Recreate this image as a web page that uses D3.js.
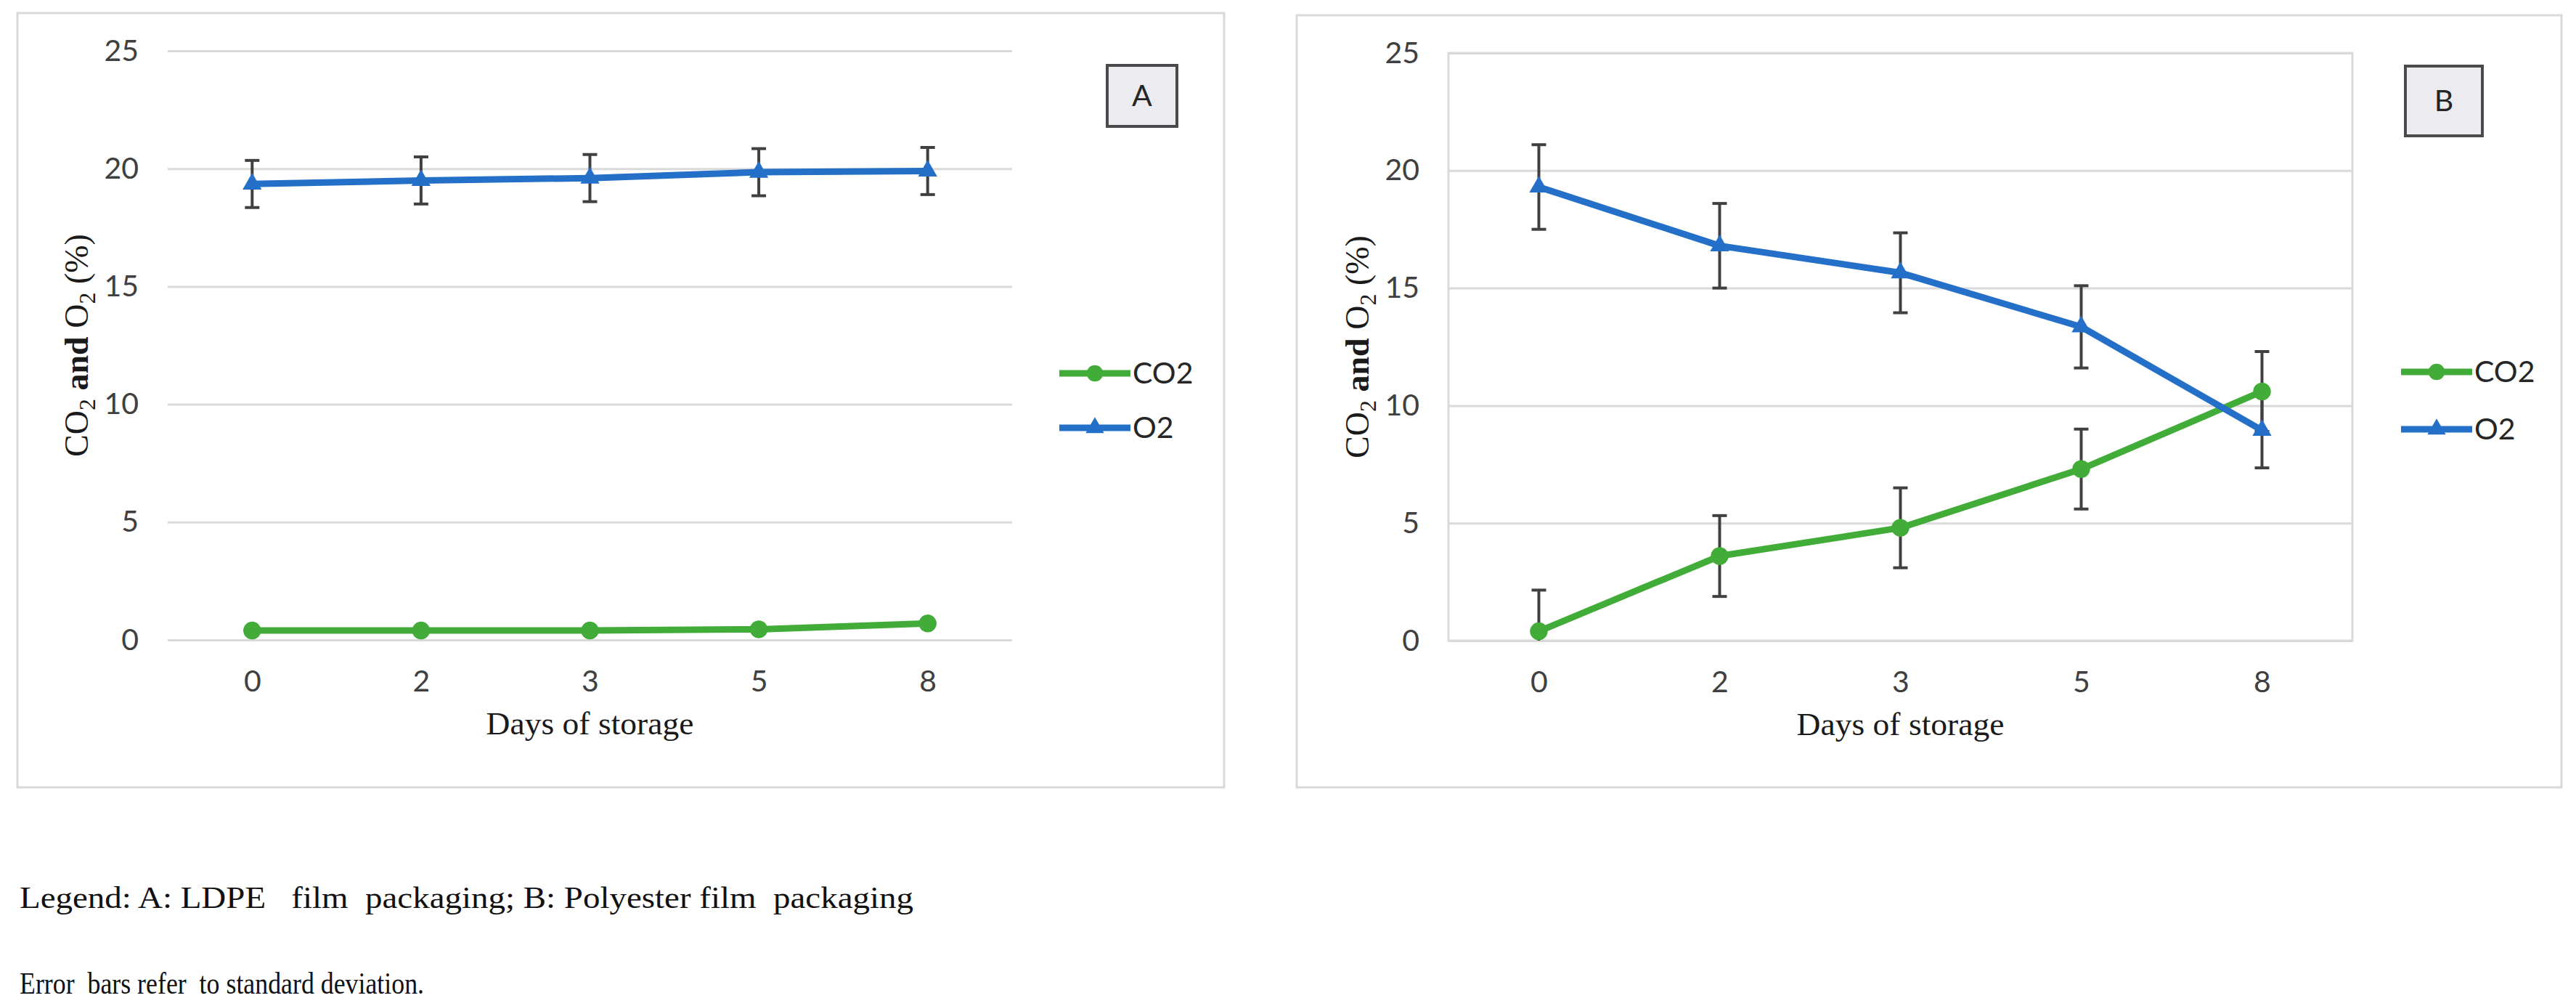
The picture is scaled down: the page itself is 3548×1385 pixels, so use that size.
<!DOCTYPE html>
<html>
<head>
<meta charset="utf-8">
<script src="https://cdn.jsdelivr.net/npm/d3@7"></script>
<style>
  body { margin: 0; background: #ffffff; }
  svg { display: block; }
  .foot { white-space: pre; }
</style>
</head>
<body>
<div id="chart"></div>
<script>
// Part 0
var days = ["0", "2", "3", "5", "8"];
var yTicks = [0, 5, 10, 15, 20, 25];

// Panel A - LDPE film packaging
var aCO2 = [0.4, 0.4, 0.4, 0.45, 0.7];
var aCO2Sd = [0, 0, 0, 0, 0];
var aO2 = [19.35, 19.5, 19.6, 19.85, 19.9];
var aO2Sd = [1.0, 1.0, 1.0, 1.0, 1.0];

// Panel B - Polyester film packaging
var bCO2 = [0.4, 3.6, 4.8, 7.3, 10.6];
var bCO2Sd = [1.75, 1.72, 1.7, 1.7, 1.7];
var bO2 = [19.3, 16.8, 15.65, 13.35, 8.95];
var bO2Sd = [1.8, 1.8, 1.7, 1.75, 1.6];

var seriesNames = ["CO2", "O2"];
var boxLabels = ["A", "B"];
var footLines = [
  "Legend: A: LDPE   film  packaging; B: Polyester film  packaging",
  "Error  bars refer  to standard deviation."
];

var green = "#41ac38";
var blue = "#2470c8";
var sans = "Lato, 'Open Sans', sans-serif";
var serif = "'Liberation Serif', 'DejaVu Serif', serif";

// Part 1 - Canvas
var width = 3548;
var height = 1385;

var svg = d3
  .select("#chart")
  .append("svg")
  .attr("width", width)
  .attr("height", height);

svg.append("rect")
  .attr("width", width)
  .attr("height", height)
  .attr("fill", "#ffffff");

// Part 2 - One panel of the figure
function drawPanel(cfg) {
  var g = svg.append("g");

  // outer chart frame
  g.append("rect")
    .attr("x", cfg.box[0])
    .attr("y", cfg.box[1])
    .attr("width", cfg.box[2])
    .attr("height", cfg.box[3])
    .attr("fill", "#ffffff")
    .attr("stroke", "#d9d9d9")
    .attr("stroke-width", 3);

  var x = d3.scalePoint()
    .domain(days)
    .range([cfg.left, cfg.right])
    .padding(0.5);

  var y = d3.scaleLinear()
    .domain([0, 25])
    .range([cfg.bottom, cfg.top]);

  // y axis with gridlines
  var yAxis = g.append("g")
    .attr("transform", "translate(" + cfg.left + ",0)")
    .call(d3.axisLeft(y)
      .tickValues(yTicks)
      .tickSize(-(cfg.right - cfg.left))
      .tickPadding(40));
  yAxis.select(".domain").remove();
  yAxis.selectAll(".tick line")
    .attr("stroke", "#d9d9d9")
    .attr("stroke-width", 3);
  yAxis.selectAll(".tick text")
    .attr("font-family", sans)
    .attr("font-size", 41)
    .attr("fill", "#404040");

  // plot area border (only panel B has one)
  if (cfg.plotBorder) {
    g.append("rect")
      .attr("x", cfg.left)
      .attr("y", cfg.top)
      .attr("width", cfg.right - cfg.left)
      .attr("height", cfg.bottom - cfg.top)
      .attr("fill", "none")
      .attr("stroke", "#d9d9d9")
      .attr("stroke-width", 3);
  }

  // x axis, labels only
  var xAxis = g.append("g")
    .attr("transform", "translate(0," + cfg.bottom + ")")
    .call(d3.axisBottom(x).tickSize(0).tickPadding(42));
  xAxis.select(".domain").remove();
  xAxis.selectAll(".tick text")
    .attr("font-family", sans)
    .attr("font-size", 41)
    .attr("fill", "#404040");

  // axis titles
  g.append("text")
    .attr("x", (cfg.left + cfg.right) / 2)
    .attr("y", cfg.bottom + 130)
    .attr("text-anchor", "middle")
    .attr("font-family", serif)
    .attr("font-size", 44)
    .attr("fill", "#1a1a1a")
    .attr("textLength", 286)
    .attr("lengthAdjust", "spacingAndGlyphs")
    .text("Days of storage");

  var yTitle = g.append("text")
    .attr("transform", "translate(" + (cfg.left - 110) + "," + ((cfg.top + cfg.bottom) / 2) + ")rotate(-90)")
    .attr("text-anchor", "middle")
    .attr("font-family", serif)
    .attr("font-size", 46)
    .attr("fill", "#1a1a1a");
  yTitle.append("tspan").text("CO");
  yTitle.append("tspan").attr("dy", 10).attr("font-size", 32).text("2");
  yTitle.append("tspan").attr("dy", -10).text(" ");
  yTitle.append("tspan").attr("font-weight", "bold").text("and");
  yTitle.append("tspan").text(" O");
  yTitle.append("tspan").attr("dy", 10).attr("font-size", 32).text("2");
  yTitle.append("tspan").attr("dy", -10).text(" (%)");

  // series: error bars, line, markers
  var series = [
    { name: seriesNames[0], vals: cfg.co2, sd: cfg.co2Sd, color: green, shape: "circle" },
    { name: seriesNames[1], vals: cfg.o2, sd: cfg.o2Sd, color: blue, shape: "triangle" }
  ];

  var line = d3.line()
    .x(function (d, i) { return x(days[i]); })
    .y(function (d) { return y(d); });

  series.forEach(function (s) {
    var bars = g.append("g")
      .attr("stroke", "#404040")
      .attr("stroke-width", 4);
    s.vals.forEach(function (v, i) {
      if (!s.sd[i]) return;
      var cx = x(days[i]);
      var hi = y(Math.min(25, v + s.sd[i]));
      var lo = y(Math.max(0, v - s.sd[i]));
      bars.append("line").attr("x1", cx).attr("x2", cx).attr("y1", hi).attr("y2", lo);
      bars.append("line").attr("x1", cx - 10).attr("x2", cx + 10).attr("y1", hi).attr("y2", hi);
      if (v - s.sd[i] > 0) {
        bars.append("line").attr("x1", cx - 10).attr("x2", cx + 10).attr("y1", lo).attr("y2", lo);
      }
    });
  });

  series.forEach(function (s) {
    g.append("path")
      .datum(s.vals)
      .attr("d", line)
      .attr("fill", "none")
      .attr("stroke", s.color)
      .attr("stroke-width", 9)
      .attr("stroke-linejoin", "round");

    var sym = s.shape === "circle"
      ? d3.symbol().type(d3.symbolCircle).size(470)
      : d3.symbol().type(d3.symbolTriangle).size(300);

    g.selectAll(null)
      .data(s.vals)
      .enter()
      .append("path")
      .attr("d", sym)
      .attr("transform", function (d, i) {
        return "translate(" + x(days[i]) + "," + y(d) + ")";
      })
      .attr("fill", s.color);
  });

  // legend
  series.forEach(function (s, i) {
    var ly = cfg.legendY[i];
    var lx = cfg.right + cfg.legendDx;
    g.append("line")
      .attr("x1", lx).attr("x2", lx + 98)
      .attr("y1", ly).attr("y2", ly)
      .attr("stroke", s.color)
      .attr("stroke-width", 9);
    var sym = s.shape === "circle"
      ? d3.symbol().type(d3.symbolCircle).size(400)
      : d3.symbol().type(d3.symbolTriangle).size(280);
    g.append("path")
      .attr("d", sym)
      .attr("transform", "translate(" + (lx + 49) + "," + ly + ")")
      .attr("fill", s.color);
    g.append("text")
      .attr("x", lx + 101)
      .attr("y", ly)
      .attr("dy", "0.35em")
      .attr("font-family", sans)
      .attr("font-size", 41)
      .attr("fill", "#262626")
      .text(s.name);
  });

  // panel label box
  g.append("rect")
    .attr("x", cfg.tag[0])
    .attr("y", cfg.tag[1])
    .attr("width", cfg.tag[2])
    .attr("height", cfg.tag[3])
    .attr("fill", "#ececf0")
    .attr("stroke", "#4a4a4a")
    .attr("stroke-width", 4);
  g.append("text")
    .attr("x", cfg.tag[0] + cfg.tag[2] / 2)
    .attr("y", cfg.tag[1] + cfg.tag[3] / 2)
    .attr("dy", "0.35em")
    .attr("text-anchor", "middle")
    .attr("font-family", sans)
    .attr("font-size", 41)
    .attr("fill", "#262626")
    .text(cfg.label);
}

// Part 3 - Draw both panels
drawPanel({
  label: boxLabels[0],
  box: [24, 18, 1662, 1066],
  left: 231, right: 1394, top: 70, bottom: 881,
  plotBorder: false,
  co2: aCO2, co2Sd: aCO2Sd, o2: aO2, o2Sd: aO2Sd,
  legendDx: 65, legendY: [514, 589],
  tag: [1525, 90, 96, 84]
});

drawPanel({
  label: boxLabels[1],
  box: [1786, 21, 1742, 1063],
  left: 1995, right: 3240, top: 73, bottom: 882,
  plotBorder: true,
  co2: bCO2, co2Sd: bCO2Sd, o2: bO2, o2Sd: bO2Sd,
  legendDx: 67, legendY: [512, 591],
  tag: [3313, 91, 106, 96]
});

// Part 4 - Footnotes under the figure
var foot = svg.append("g")
  .attr("font-family", serif)
  .attr("font-size", 42)
  .attr("fill", "#111111");

foot.append("text")
  .attr("class", "foot")
  .attr("xml:space", "preserve")
  .attr("x", 27)
  .attr("y", 1250)
  .attr("textLength", 1231)
  .attr("lengthAdjust", "spacingAndGlyphs")
  .text(footLines[0]);

foot.append("text")
  .attr("class", "foot")
  .attr("xml:space", "preserve")
  .attr("x", 27)
  .attr("y", 1368)
  .attr("textLength", 557)
  .attr("lengthAdjust", "spacingAndGlyphs")
  .text(footLines[1]);
</script>
</body>
</html>
